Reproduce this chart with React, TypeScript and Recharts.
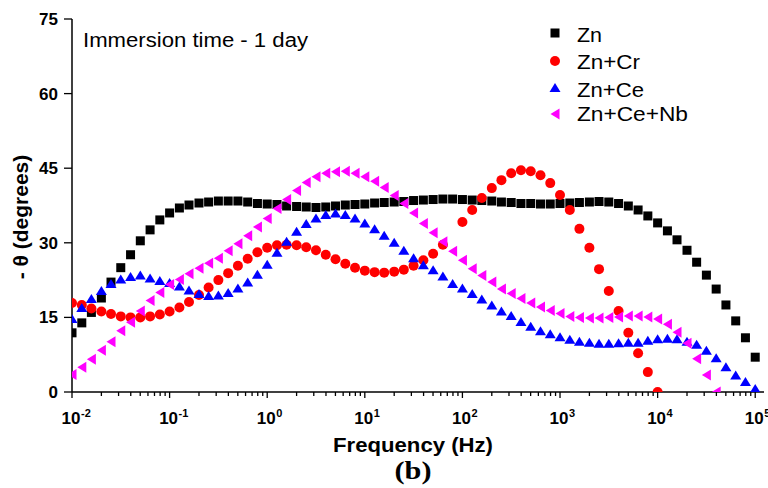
import { ScatterChart, Scatter, XAxis, YAxis } from 'recharts';

// Frequency sweep, 10 points per decade (Hz)
const freqHz = [
  0.01, 0.0126, 0.0158, 0.02, 0.0251, 0.0316, 0.0398, 0.0501, 0.0631, 0.0794,
  0.1, 0.126, 0.158, 0.2, 0.251, 0.316, 0.398, 0.501, 0.631, 0.794,
  1, 1.26, 1.58, 2, 2.51, 3.16, 3.98, 5.01, 6.31, 7.94,
  10, 12.6, 15.8, 20, 25.1, 31.6, 39.8, 50.1, 63.1, 79.4,
  100, 126, 158, 200, 251, 316, 398, 501, 631, 794,
  1000, 1260, 1580, 2000, 2510, 3160, 3980, 5010, 6310, 7940,
  10000, 12600, 15800, 20000, 25100, 31600, 39800, 50100, 63100, 79400,
  100000,
];

// -phase (degrees)
const zn = [
  11.9, 13.9, 16.0, 18.9, 22.1, 25.0, 27.6, 30.4, 32.6, 34.6,
  36.0, 37.0, 37.6, 38.0, 38.2, 38.4, 38.4, 38.4, 38.2, 37.9,
  37.8, 37.7, 37.4, 37.3, 37.2, 37.1, 37.2, 37.4, 37.6, 37.7,
  37.8, 38.0, 38.1, 38.2, 38.3, 38.5, 38.6, 38.7, 38.8, 38.8,
  38.7, 38.6, 38.5, 38.4, 38.2, 38.1, 37.9, 37.9, 37.8, 37.8,
  37.9, 38.0, 38.1, 38.2, 38.3, 38.2, 37.9, 37.4, 36.6, 35.4,
  34.0, 32.4, 30.6, 28.5, 26.1, 23.5, 20.7, 17.5, 14.3, 10.9,
  7.0,
];

const znCr = [
  17.9, 17.5, 16.8, 16.2, 15.7, 15.2, 15.0, 15.0, 15.2, 15.6,
  16.2, 17.0, 18.1, 19.5, 21.0, 22.5, 23.9, 25.4, 26.8, 28.1,
  29.0, 29.5, 29.6, 29.5, 29.1, 28.5, 27.6, 26.7, 25.8, 25.0,
  24.4, 24.1, 24.0, 24.2, 24.6, 25.4, 26.5, 27.8, 29.6, null,
  34.2, 36.6, 39.0, 41.0, 42.6, 44.0, 44.6, 44.4, 43.6, 42.0,
  39.6, 36.6, 32.8, 29.0, 24.7, 20.3, 16.3, 11.9, 7.8, 4.0,
  0,
];

const znCe = [
  14.7, 16.9, 18.7, 20.3, 21.7, 22.6, 23.1, 23.4, 22.8, 22.3,
  21.9, 21.2, 20.4, 19.7, 19.3, 19.4, 19.9, 20.8, 22.0, 23.6,
  25.6, 28.0, 30.2, 32.2, 33.8, 34.9, 35.6, 35.9, 35.6, 34.9,
  33.9, 32.7, 31.4, 30.0, 28.4, 26.9, 25.5, 24.5, 23.2, 21.7,
  20.8, 19.7, 18.6, 17.4, 16.2, 15.3, 14.1, 13.1, 12.2, 11.6,
  11.0, 10.5, 10.1, 9.9, 9.7, 9.7, 9.8, 9.9, 9.9, 10.3,
  10.6, 10.7, 10.6, 10.1, 9.5, 8.3, 6.8, 5.0, 3.3, 2.0,
  0.6,
];

const znCeNb = [
  3.5, 5.0, 6.6, 8.4, 10.1, 12.3, 14.0, 16.3, 18.4, 20.0,
  21.6, 22.6, 23.8, 24.9, 25.9, 26.9, 28.4, 29.8, 31.4, 33.2,
  34.9, 36.9, 38.7, 40.5, 42.1, 43.3, 44.0, 44.3, 44.4, 44.0,
  43.3, 42.4, 41.1, 39.5, 37.9, 36.0, 33.9, 32.0, 30.2, 28.3,
  26.5, 24.8, 23.4, 22.1, 20.7, 19.8, 18.8, 17.9, 17.1, 16.4,
  15.8, 15.2, 15.0, 14.9, 14.9, 15.0, 15.1, 15.3, 15.3, 15.1,
  14.7, 13.6, 12.0, 9.8, 6.7, 3.4, 0,
];

const decadeExponents = [-2, -1, 0, 1, 2, 3, 4, 5];
const yTicks = [0, 15, 30, 45, 60, 75];

const SANS = '"Liberation Sans", Arial, sans-serif';

const xTicks: number[] = [];
decadeExponents.forEach((e) => {
  const mult = e === 5 ? [1] : [1, 2, 3, 4, 5, 6, 7, 8, 9];
  mult.forEach((m) => xTicks.push(Number((m * Math.pow(10, e)).toPrecision(3))));
});

const toPoints = (vals: (number | null)[]) =>
  vals
    .map((v, i) => ({ f: freqHz[i], v }))
    .filter((p) => p.v !== null);

type MarkerKind = 'square' | 'circle' | 'triangle' | 'left';

function Marker({ kind, cx, cy, color }: { kind: MarkerKind; cx: number; cy: number; color: string }) {
  if (kind === 'square') {
    return <rect x={cx - 4.5} y={cy - 4.5} width={9} height={9} fill={color} />;
  }
  if (kind === 'circle') {
    return <circle cx={cx} cy={cy} r={5} fill={color} />;
  }
  if (kind === 'triangle') {
    return <polygon points={`${cx},${cy - 5} ${cx - 5.5},${cy + 4} ${cx + 5.5},${cy + 4}`} fill={color} />;
  }
  return <polygon points={`${cx - 4.5},${cy} ${cx + 4.5},${cy - 5.5} ${cx + 4.5},${cy + 5.5}`} fill={color} />;
}

const series = [
  { name: 'Zn', data: zn, color: '#000000', kind: 'square' as MarkerKind },
  { name: 'Zn+Cr', data: znCr, color: '#ff0000', kind: 'circle' as MarkerKind },
  { name: 'Zn+Ce', data: znCe, color: '#0000ff', kind: 'triangle' as MarkerKind },
  { name: 'Zn+Ce+Nb', data: znCeNb, color: '#ff00ff', kind: 'left' as MarkerKind },
];

const isMajor = (v: number) => {
  const lg = Math.log10(v);
  return Math.abs(lg - Math.round(lg)) < 1e-6;
};

function BottomTick(props: any) {
  const { x, y, payload } = props;
  const major = isMajor(payload.value);
  const e = Math.round(Math.log10(payload.value));
  return (
    <g>
      <line x1={x} y1={y} x2={x} y2={y + (major ? 6 : 4)} stroke="#000" strokeWidth={1.3} />
      {major && (
        <g fontFamily={SANS} fontWeight="bold" fill="#000">
          <text x={x - 1} y={y + 32} textAnchor="middle" fontSize={17}>10</text>
          <text x={x + 9} y={y + 25} fontSize={11}>{e}</text>
        </g>
      )}
    </g>
  );
}

function TopTick(props: any) {
  const { x, y, payload } = props;
  const major = isMajor(payload.value);
  return <line x1={x} y1={y} x2={x} y2={y + (major ? 6 : 4)} stroke="#000" strokeWidth={1.3} />;
}

function LeftTick(props: any) {
  const { x, y, payload } = props;
  return (
    <g>
      <line x1={x - 8} y1={y} x2={x} y2={y} stroke="#000" strokeWidth={1.3} />
      <text x={x - 14} y={y + 6} textAnchor="end" fontFamily={SANS} fontWeight="bold" fontSize={17} fill="#000">
        {payload.value}
      </text>
    </g>
  );
}

function RightTick(props: any) {
  const { x, y } = props;
  return <line x1={x - 5} y1={y} x2={x} y2={y} stroke="#000" strokeWidth={1.3} />;
}

const legendRows = [
  { y: 42, my: 33, w: 25 },
  { y: 69, my: 61, w: 63 },
  { y: 97, my: 88, w: 67 },
  { y: 121, my: 114, w: 111 },
];

export default function App() {
  const axisLine = { stroke: '#000', strokeWidth: 1.5 };
  return (
    <div style={{ position: 'absolute', left: 0, top: 0, width: 768, height: 488, background: '#fff' }}>
      <ScatterChart width={768} height={488} margin={{ top: 19, right: 4, bottom: 0, left: 0 }}>
        <XAxis
          dataKey="f"
          type="number"
          scale="log"
          domain={[0.01, 123000]}
          allowDataOverflow
          ticks={xTicks}
          interval={0}
          height={96}
          tickSize={0}
          tickMargin={0}
          tickLine={false}
          axisLine={axisLine}
          tick={<BottomTick />}
        />
        <XAxis
          xAxisId="top"
          orientation="top"
          dataKey="f"
          type="number"
          scale="log"
          domain={[0.01, 123000]}
          allowDataOverflow
          ticks={xTicks}
          interval={0}
          height={0}
          tickSize={0}
          tickMargin={0}
          tickLine={false}
          axisLine={axisLine}
          tick={<TopTick />}
        />
        <YAxis
          dataKey="v"
          type="number"
          domain={[0, 75]}
          allowDataOverflow
          ticks={yTicks}
          interval={0}
          width={72}
          tickSize={0}
          tickMargin={0}
          tickLine={false}
          axisLine={axisLine}
          tick={<LeftTick />}
        />
        <YAxis
          yAxisId="right"
          orientation="right"
          dataKey="v"
          type="number"
          domain={[0, 75]}
          allowDataOverflow
          ticks={yTicks}
          interval={0}
          width={0}
          tickSize={0}
          tickMargin={0}
          tickLine={false}
          axisLine={axisLine}
          tick={<RightTick />}
        />
        {series.map((s) => (
          <Scatter
            key={s.name}
            name={s.name}
            data={toPoints(s.data)}
            isAnimationActive={false}
            shape={(p: any) => <Marker kind={s.kind} cx={p.cx} cy={p.cy} color={s.color} />}
          />
        ))}
      </ScatterChart>

      <svg width={768} height={488} style={{ position: 'absolute', left: 0, top: 0, pointerEvents: 'none' }}>
        <text x={83} y={47} fontFamily={SANS} fontSize={20} textLength={225} lengthAdjust="spacingAndGlyphs" fill="#000">
          Immersion time - 1 day
        </text>
        {series.map((s, i) => (
          <g key={s.name}>
            <Marker kind={s.kind} cx={555} cy={legendRows[i].my} color={s.color} />
            <text
              x={577}
              y={legendRows[i].y}
              fontFamily={SANS}
              fontSize={20}
              textLength={legendRows[i].w}
              lengthAdjust="spacingAndGlyphs"
              fill="#000"
            >
              {s.name}
            </text>
          </g>
        ))}
        <text
          transform="translate(28,217) rotate(-90)"
          textAnchor="middle"
          fontFamily={SANS}
          fontWeight="bold"
          fontSize={21}
          fill="#000"
        >
          - θ (degrees)
        </text>
        <text
          x={413}
          y={452}
          textAnchor="middle"
          fontFamily={SANS}
          fontWeight="bold"
          fontSize={21}
          textLength={160}
          lengthAdjust="spacingAndGlyphs"
          fill="#000"
        >
          Frequency (Hz)
        </text>
        <text
          x={413}
          y={479}
          textAnchor="middle"
          fontFamily={'"Liberation Serif", "Times New Roman", serif'}
          fontWeight="bold"
          fontSize={25}
          textLength={37}
          lengthAdjust="spacingAndGlyphs"
          fill="#000"
        >
          (b)
        </text>
      </svg>
    </div>
  );
}
